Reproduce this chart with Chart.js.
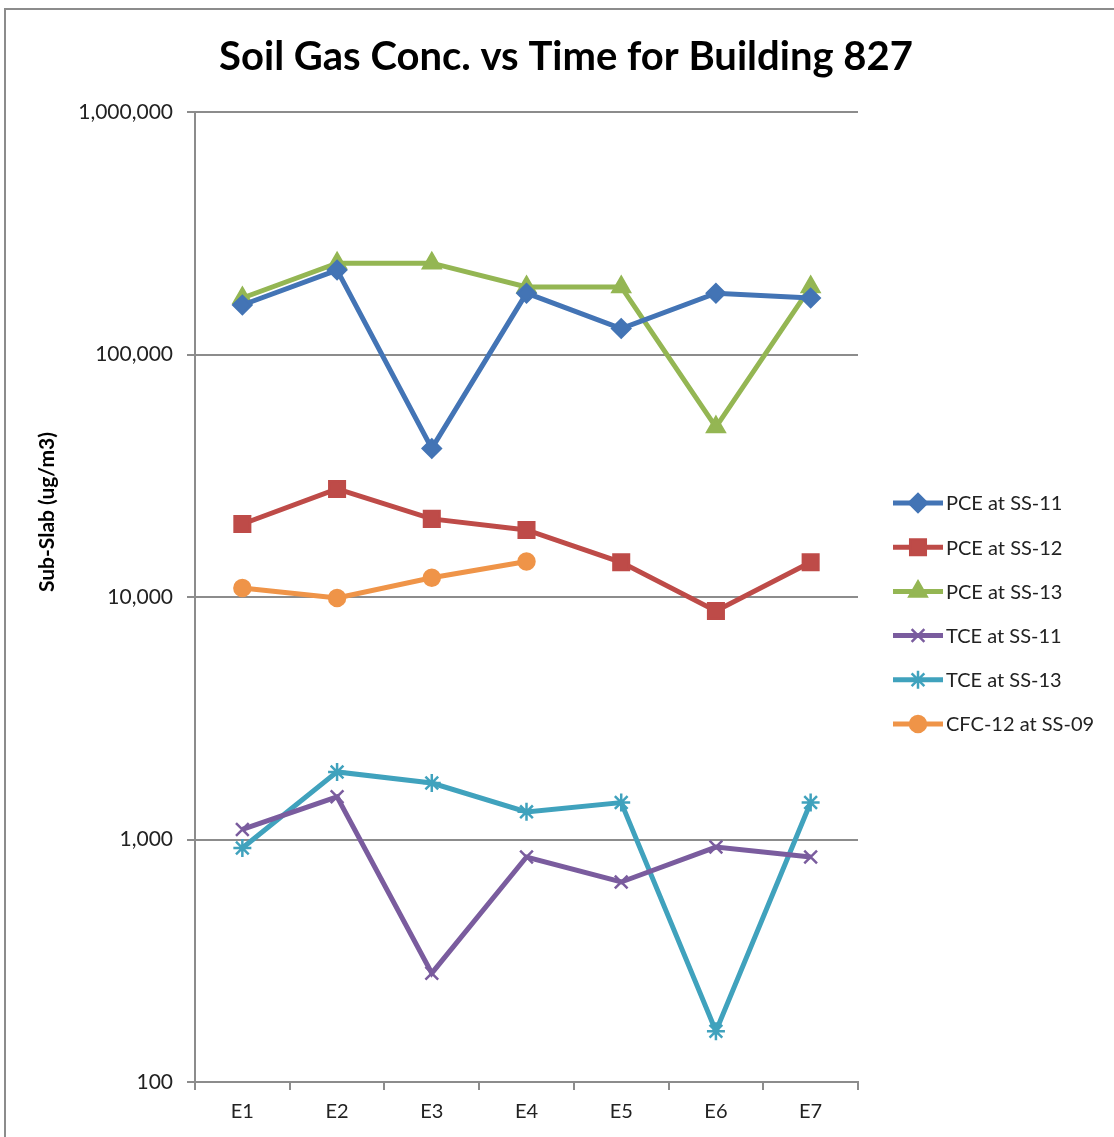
<!DOCTYPE html>
<html>
<head>
<meta charset="utf-8">
<script src="https://cdn.jsdelivr.net/npm/chart.js@4.4.1/dist/chart.umd.min.js"></script>
<style>
  html, body { margin: 0; padding: 0; background: #fff; }
</style>
</head>
<body>
<canvas id="chart" width="1114" height="1137"></canvas>
<script>
// Sampling events and the measured sub-slab concentrations (ug/m3)
const categories = ['E1', 'E2', 'E3', 'E4', 'E5', 'E6', 'E7'];
const pceSS11 = [160000, 223000, 41000, 179000, 128000, 179000, 171000];
const pceSS12 = [20000, 27900, 21000, 18900, 13900, 8750, 13900];
const pceSS13 = [171000, 238000, 238000, 190000, 190000, 50200, 190000];
const tceSS11 = [1100, 1500, 281, 847, 668, 931, 847];
const tceSS13 = [922, 1900, 1710, 1300, 1420, 162, 1420];
const cfc12SS09 = [10900, 9900, 12000, 14000, null, null, null];
const yTicks = [100, 1000, 10000, 100000, 1000000];

const font = 'Lato, "Open Sans", sans-serif';
const gray = '#8c8c8c';

function series(label, data, color, style, radius) {
    return {
        label: label,
        data: data,
        borderColor: color,
        backgroundColor: color,
        borderWidth: 5,
        pointStyle: style,
        pointRadius: radius,
        pointHoverRadius: radius,
        pointBorderWidth: 2.5,
        pointBackgroundColor: color,
        pointBorderColor: color,
        tension: 0,
        spanGaps: false
    };
}

// Frame, title, y axis title and the line+marker legend
const extras = {
    id: 'extras',
    beforeDraw(chart) {
        const ctx = chart.ctx;
        ctx.save();
        ctx.strokeStyle = gray;
        ctx.lineWidth = 2;
        ctx.strokeRect(5, 9, 1200, 1200);
        ctx.restore();
    },
    afterDraw(chart) {
        const ctx = chart.ctx;
        ctx.save();
        ctx.fillStyle = '#000';
        ctx.textAlign = 'center';
        ctx.textBaseline = 'middle';
        ctx.font = 'bold 40px ' + font;
        ctx.fillText('Soil Gas Conc. vs Time for Building 827', 566, 57);

        ctx.save();
        ctx.translate(47, 512);
        ctx.rotate(-Math.PI / 2);
        ctx.font = 'bold 21px ' + font;
        ctx.fillText('Sub-Slab (ug/m3)', 0, 0);
        ctx.restore();

        // legend
        chart.data.datasets.forEach((ds, i) => {
            const y = 503 + i * 44.2;
            ctx.strokeStyle = ds.borderColor;
            ctx.fillStyle = ds.borderColor;
            ctx.lineWidth = ds.borderWidth;
            ctx.beginPath();
            ctx.moveTo(893, y);
            ctx.lineTo(943, y);
            ctx.stroke();
            ctx.lineWidth = ds.pointBorderWidth;
            Chart.helpers.drawPoint(ctx, {
                pointStyle: ds.pointStyle,
                radius: ds.pointRadius,
                borderWidth: ds.pointBorderWidth,
                rotation: 0
            }, 918, y);
            ctx.fillStyle = '#222';
            ctx.textAlign = 'left';
            ctx.font = '20px ' + font;
            ctx.fillText(ds.label, 946, y + 1);
        });
        ctx.restore();
    }
};

new Chart(document.getElementById('chart'), {
    type: 'line',
    data: {
        labels: categories,
        datasets: [
            series('PCE at SS-11', pceSS11, '#4374b5', 'rectRot', 9),
            series('PCE at SS-12', pceSS12, '#be4b48', 'rect', 11),
            series('PCE at SS-13', pceSS13, '#94b653', 'triangle', 10),
            series('TCE at SS-11', tceSS11, '#7a5c9e', 'crossRot', 9),
            series('TCE at SS-13', tceSS13, '#40a2bd', 'star', 9),
            series('CFC-12 at SS-09', cfc12SS09, '#ef9448', 'circle', 8)
        ]
    },
    options: {
        responsive: false,
        animation: false,
        devicePixelRatio: 1,
        layout: { padding: { top: 112, right: 256, left: 0, bottom: 0 } },
        plugins: {
            legend: { display: false },
            title: { display: false },
            tooltip: { enabled: false }
        },
        scales: {
            x: {
                offset: true,
                grid: { drawOnChartArea: false, color: gray, lineWidth: 2, tickLength: 8, offset: true },
                border: { color: gray, width: 2 },
                ticks: { color: '#222', font: { family: font, size: 20 }, padding: 10 },
                afterFit(scale) { scale.height = 55; }
            },
            y: {
                type: 'logarithmic',
                min: 100,
                max: 1000000,
                grid: { color: gray, lineWidth: 2, tickLength: 8 },
                border: { color: gray, width: 2 },
                ticks: {
                    color: '#222',
                    font: { family: font, size: 21 },
                    padding: 14,
                    callback: (v) => Number(v).toLocaleString('en-US')
                },
                afterBuildTicks(scale) { scale.ticks = yTicks.map(v => ({ value: v })); },
                afterFit(scale) { scale.width = 195; }
            }
        }
    },
    plugins: [extras]
});
</script>
</body>
</html>
